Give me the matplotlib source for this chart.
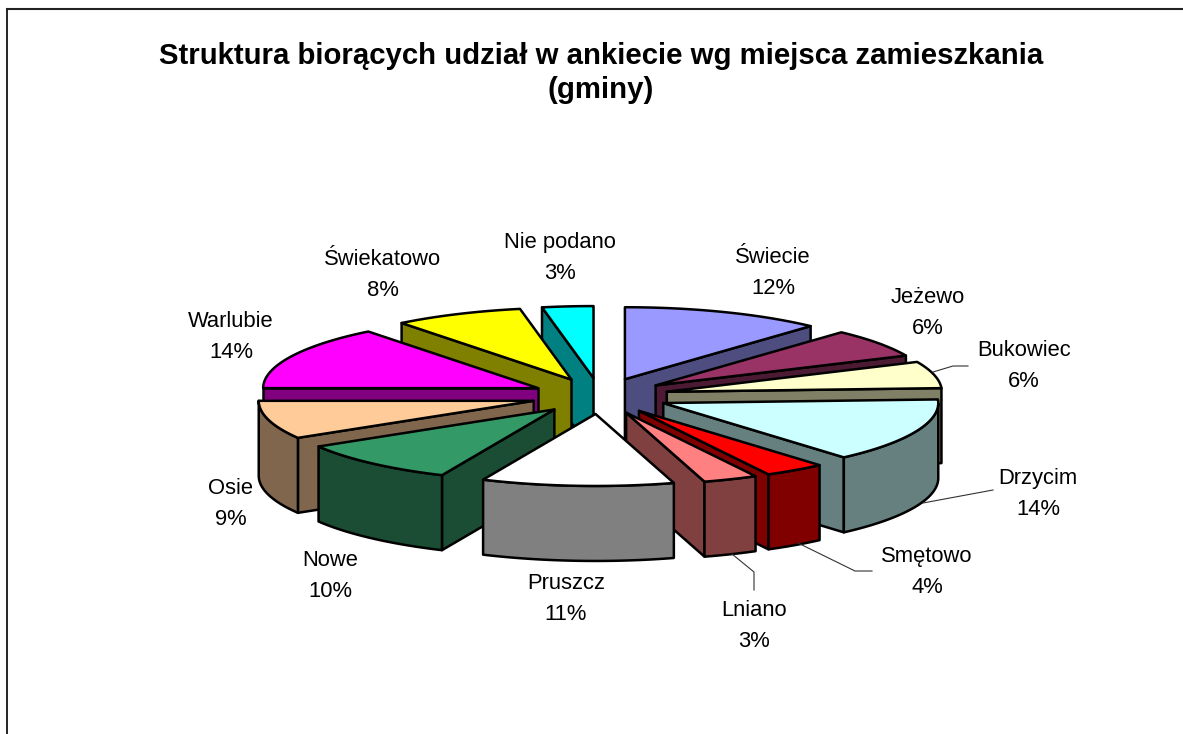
import numpy as np
import matplotlib
matplotlib.use("Agg")
import matplotlib.pyplot as plt
from matplotlib.patches import Polygon

# ---------- data ----------
categories = ["Świecie", "Jeżewo", "Bukowiec", "Drzycim", "Smętowo", "Lniano",
              "Pruszcz", "Nowe", "Osie", "Warlubie", "Świekatowo", "Nie podano"]
values = [11.8, 6.4, 6.0, 14.4, 3.6, 3.2, 11.3, 9.7, 8.6, 14.4, 7.6, 3.0]
colors = ["#9999FF", "#993366", "#FFFFCC", "#CCFFFF", "#FF0000", "#FF8080",
          "#FFFFFF", "#339966", "#FFCC99", "#FF00FF", "#FFFF00", "#00FFFF"]
title = "Struktura biorących udział w ankiecie wg miejsca zamieszkania\n(gminy)"

# ---------- layout (pixels) ----------
W, H = 1183, 734
CX, CY, RX, RY = 600, 396, 275, 72
DEPTH, EXPLODE = 75, 0.25
label_pos = [(773, 273), (928, 313), (1024, 366), (1038, 494), (927, 572), (754, 626),
             (566, 599), (330, 576), (231, 504), (231, 337), (383, 275), (560, 258)]
leaders = [[(933, 372), (953, 366), (968, 366)],
           [(923, 503), (993, 490)],
           [(798, 543), (855, 571), (872, 571)],
           [(732, 554), (754, 572), (754, 590)]]

plt.rcParams["font.family"] = ["Liberation Sans", "DejaVu Sans"]

fig = plt.figure(figsize=(W / 100, H / 100), dpi=100)
ax = fig.add_axes([0, 0, 1, 1])
ax.set_xlim(0, W)
ax.set_ylim(H, 0)
ax.axis("off")

# frame: left and top edges only reach into the picture
ax.plot([7.5, 7.5], [H + 5, 9], color="black", lw=1.2, zorder=1)
ax.plot([7, W + 5], [9, 9], color="#222222", lw=1.5, zorder=1)


def darker(c):
    return tuple(v / 2 for v in matplotlib.colors.to_rgb(c))


fr = np.array(values, float) / sum(values)
ends = np.cumsum(fr) * 2 * np.pi
starts = ends - fr * 2 * np.pi
mids = (starts + ends) / 2
order = np.argsort(-np.cos(mids))  # back to front
edge = dict(edgecolor="black", linewidth=1.8, joinstyle="round")

for z, i in enumerate(order):
    a = np.linspace(starts[i], ends[i], 80)
    ox = CX + EXPLODE * RX * np.sin(mids[i])
    oy = CY - EXPLODE * RY * np.cos(mids[i])
    x = ox + RX * np.sin(a)
    y = oy - RY * np.cos(a)
    side = darker(colors[i])
    zb = 2 + z * 0.01
    mx = ox + 0.5 * RX * np.sin(mids[i])
    my = oy - 0.5 * RY * np.cos(mids[i])
    # radial walls: only those with the slice's top above them are seen
    for j in (0, -1):
        ex, ey = x[j] - ox, y[j] - oy
        cross = ex * (my - oy) - ey * (mx - ox)
        visible = cross * np.sign(ex) < 0 if abs(ex) > 1e-6 else False
        if visible:
            ax.add_patch(Polygon([(ox, oy), (x[j], y[j]), (x[j], y[j] + DEPTH), (ox, oy + DEPTH)],
                                 facecolor=side, zorder=zb, **edge))
    # outer rim, front facing part
    mask = np.cos(a) <= 0.0
    if mask.sum() > 1:
        xr, yr = x[mask], y[mask]
        ax.add_patch(Polygon(np.r_[np.c_[xr, yr], np.c_[xr, yr + DEPTH][::-1]],
                             facecolor=side, zorder=zb + 0.001, **edge))
    # top
    ax.add_patch(Polygon(np.r_[[(ox, oy)], np.c_[x, y]], facecolor=colors[i],
                         zorder=zb + 0.002, **edge))

for pts in leaders:
    ax.plot(*zip(*pts), color="#333333", lw=0.8, zorder=5)

for name, v, (lx, ly) in zip(categories, values, label_pos):
    ax.text(lx, ly, f"{name}\n{v:.0f}%", ha="center", va="center", fontsize=15.8,
            linespacing=1.68, color="black", zorder=6)

ax.text(601, 73, title, ha="center", va="center", fontsize=21.15, fontweight="bold",
        linespacing=1.27, color="black", zorder=6)

fig.savefig("out.png", dpi=100, facecolor="white")
